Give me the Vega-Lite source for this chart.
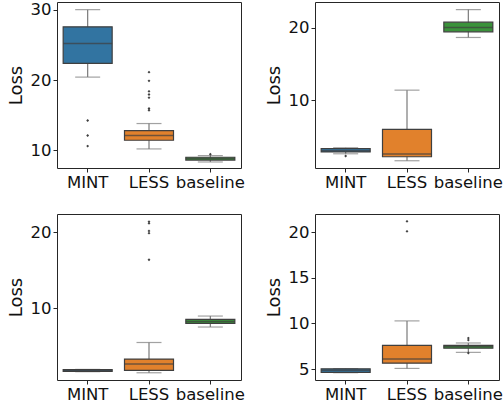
{
  "$schema": "https://vega.github.io/schema/vega-lite/v6.json",
  "padding": {"left": 6, "top": 1, "right": 5, "bottom": 2},
  "datasets": {
    "boxes": [
      {"panel": "a", "cat": "MINT", "lower": 20.43, "q1": 22.4, "median": 25.24, "q3": 27.6, "upper": 30.05},
      {"panel": "a", "cat": "LESS", "lower": 10.19, "q1": 11.43, "median": 12.1, "q3": 12.81, "upper": 13.81},
      {"panel": "a", "cat": "baseline", "lower": 8.33, "q1": 8.6, "median": 8.81, "q3": 9.0, "upper": 9.24},
      {"panel": "b", "cat": "MINT", "lower": 2.64, "q1": 2.9, "median": 3.06, "q3": 3.35, "upper": 3.47},
      {"panel": "b", "cat": "LESS", "lower": 1.68, "q1": 2.23, "median": 2.6, "q3": 5.99, "upper": 11.41},
      {"panel": "b", "cat": "baseline", "lower": 18.67, "q1": 19.45, "median": 20.05, "q3": 20.78, "upper": 22.51},
      {"panel": "c", "cat": "MINT", "lower": 1.7, "q1": 1.75, "median": 1.85, "q3": 1.96, "upper": 2.0},
      {"panel": "c", "cat": "LESS", "lower": 1.56, "q1": 1.88, "median": 2.7, "q3": 3.35, "upper": 5.53},
      {"panel": "c", "cat": "baseline", "lower": 7.56, "q1": 8.04, "median": 8.3, "q3": 8.57, "upper": 9.0},
      {"panel": "d", "cat": "MINT", "lower": 4.6, "q1": 4.64, "median": 4.86, "q3": 5.03, "upper": 5.05},
      {"panel": "d", "cat": "LESS", "lower": 5.07, "q1": 5.65, "median": 6.11, "q3": 7.6, "upper": 10.28},
      {"panel": "d", "cat": "baseline", "lower": 6.83, "q1": 7.28, "median": 7.45, "q3": 7.6, "upper": 7.86}
    ],
    "outliers": [
      {"panel": "a", "cat": "MINT", "value": 14.24},
      {"panel": "a", "cat": "MINT", "value": 12.1},
      {"panel": "a", "cat": "MINT", "value": 10.6},
      {"panel": "a", "cat": "LESS", "value": 21.14},
      {"panel": "a", "cat": "LESS", "value": 19.9},
      {"panel": "a", "cat": "LESS", "value": 18.4},
      {"panel": "a", "cat": "LESS", "value": 17.95},
      {"panel": "a", "cat": "LESS", "value": 17.5},
      {"panel": "a", "cat": "LESS", "value": 15.95},
      {"panel": "a", "cat": "LESS", "value": 15.7},
      {"panel": "a", "cat": "baseline", "value": 9.43},
      {"panel": "b", "cat": "MINT", "value": 2.33},
      {"panel": "c", "cat": "LESS", "value": 21.38},
      {"panel": "c", "cat": "LESS", "value": 21.17},
      {"panel": "c", "cat": "LESS", "value": 20.17},
      {"panel": "c", "cat": "LESS", "value": 19.87},
      {"panel": "c", "cat": "LESS", "value": 16.39},
      {"panel": "d", "cat": "LESS", "value": 21.2},
      {"panel": "d", "cat": "LESS", "value": 20.1},
      {"panel": "d", "cat": "baseline", "value": 8.4},
      {"panel": "d", "cat": "baseline", "value": 8.18},
      {"panel": "d", "cat": "baseline", "value": 6.76}
    ]
  },
  "columns": 2,
  "spacing": {"row": 46, "column": 74},
  "bounds": "flush",
  "resolve": {"scale": {"y": "independent"}},
  "concat": [
    {
      "width": 184, "height": 166,
      "layer": [
        {"data": {"name": "boxes"}, "transform": [{"filter": "datum.panel === 'a'"}], "mark": {"type": "rule", "color": "#7a7a7a", "strokeWidth": 1.2},
         "encoding": {"x": {"field": "cat", "type": "nominal"}, "y": {"field": "lower", "type": "quantitative"}, "y2": {"field": "upper"}}},
        {"data": {"name": "boxes"}, "transform": [{"filter": "datum.panel === 'a'"}], "mark": {"type": "tick", "color": "#7a7a7a", "size": 25, "thickness": 1.2},
         "encoding": {"x": {"field": "cat", "type": "nominal"}, "y": {"field": "lower", "type": "quantitative"}}},
        {"data": {"name": "boxes"}, "transform": [{"filter": "datum.panel === 'a'"}], "mark": {"type": "tick", "color": "#7a7a7a", "size": 25, "thickness": 1.2},
         "encoding": {"x": {"field": "cat", "type": "nominal"}, "y": {"field": "upper", "type": "quantitative"}}},
        {"data": {"name": "boxes"}, "transform": [{"filter": "datum.panel === 'a'"}], "mark": {"type": "bar", "size": 49, "stroke": "#3f3f3f", "strokeWidth": 1.2},
         "encoding": {"x": {"field": "cat", "type": "nominal"}, "y": {"field": "q1", "type": "quantitative"}, "y2": {"field": "q3"},
           "color": {"field": "cat", "type": "nominal", "scale": {"domain": ["MINT", "LESS", "baseline"], "range": ["#3274a1", "#e1812c", "#3a923a"]}, "legend": null}}},
        {"data": {"name": "boxes"}, "transform": [{"filter": "datum.panel === 'a'"}], "mark": {"type": "tick", "color": "#3f3f3f", "size": 49, "thickness": 1.5},
         "encoding": {"x": {"field": "cat", "type": "nominal"}, "y": {"field": "median", "type": "quantitative"}}},
        {"data": {"name": "outliers"}, "transform": [{"filter": "datum.panel === 'a'"}], "mark": {"type": "point", "shape": "diamond", "filled": true, "color": "#3f3f3f", "size": 8, "opacity": 1},
         "encoding": {"x": {"field": "cat", "type": "nominal", "scale": {"domain": ["MINT", "LESS", "baseline"], "paddingInner": 0, "paddingOuter": 0}, "axis": {"title": null, "labelAngle": 0, "labelAlign": "center", "labelBaseline": "top", "bandPosition": 0.5}},
           "y": {"field": "value", "type": "quantitative", "scale": {"domain": [7.47, 31.14], "nice": false, "zero": false}, "axis": {"title": "Loss", "values": [10, 20, 30]}}}}
      ]
    },
    {
      "width": 184, "height": 166,
      "layer": [
        {"data": {"name": "boxes"}, "transform": [{"filter": "datum.panel === 'b'"}], "mark": {"type": "rule", "color": "#7a7a7a", "strokeWidth": 1.2},
         "encoding": {"x": {"field": "cat", "type": "nominal"}, "y": {"field": "lower", "type": "quantitative"}, "y2": {"field": "upper"}}},
        {"data": {"name": "boxes"}, "transform": [{"filter": "datum.panel === 'b'"}], "mark": {"type": "tick", "color": "#7a7a7a", "size": 25, "thickness": 1.2},
         "encoding": {"x": {"field": "cat", "type": "nominal"}, "y": {"field": "lower", "type": "quantitative"}}},
        {"data": {"name": "boxes"}, "transform": [{"filter": "datum.panel === 'b'"}], "mark": {"type": "tick", "color": "#7a7a7a", "size": 25, "thickness": 1.2},
         "encoding": {"x": {"field": "cat", "type": "nominal"}, "y": {"field": "upper", "type": "quantitative"}}},
        {"data": {"name": "boxes"}, "transform": [{"filter": "datum.panel === 'b'"}], "mark": {"type": "bar", "size": 49, "stroke": "#3f3f3f", "strokeWidth": 1.2},
         "encoding": {"x": {"field": "cat", "type": "nominal"}, "y": {"field": "q1", "type": "quantitative"}, "y2": {"field": "q3"},
           "color": {"field": "cat", "type": "nominal", "scale": {"domain": ["MINT", "LESS", "baseline"], "range": ["#3274a1", "#e1812c", "#3a923a"]}, "legend": null}}},
        {"data": {"name": "boxes"}, "transform": [{"filter": "datum.panel === 'b'"}], "mark": {"type": "tick", "color": "#3f3f3f", "size": 49, "thickness": 1.5},
         "encoding": {"x": {"field": "cat", "type": "nominal"}, "y": {"field": "median", "type": "quantitative"}}},
        {"data": {"name": "outliers"}, "transform": [{"filter": "datum.panel === 'b'"}], "mark": {"type": "point", "shape": "diamond", "filled": true, "color": "#3f3f3f", "size": 8, "opacity": 1},
         "encoding": {"x": {"field": "cat", "type": "nominal", "scale": {"domain": ["MINT", "LESS", "baseline"], "paddingInner": 0, "paddingOuter": 0}, "axis": {"title": null, "labelAngle": 0, "labelAlign": "center", "labelBaseline": "top", "bandPosition": 0.5}},
           "y": {"field": "value", "type": "quantitative", "scale": {"domain": [0.68, 23.56], "nice": false, "zero": false}, "axis": {"title": "Loss", "values": [10, 20]}}}}
      ]
    },
    {
      "width": 184, "height": 166,
      "layer": [
        {"data": {"name": "boxes"}, "transform": [{"filter": "datum.panel === 'c'"}], "mark": {"type": "rule", "color": "#7a7a7a", "strokeWidth": 1.2},
         "encoding": {"x": {"field": "cat", "type": "nominal"}, "y": {"field": "lower", "type": "quantitative"}, "y2": {"field": "upper"}}},
        {"data": {"name": "boxes"}, "transform": [{"filter": "datum.panel === 'c'"}], "mark": {"type": "tick", "color": "#7a7a7a", "size": 25, "thickness": 1.2},
         "encoding": {"x": {"field": "cat", "type": "nominal"}, "y": {"field": "lower", "type": "quantitative"}}},
        {"data": {"name": "boxes"}, "transform": [{"filter": "datum.panel === 'c'"}], "mark": {"type": "tick", "color": "#7a7a7a", "size": 25, "thickness": 1.2},
         "encoding": {"x": {"field": "cat", "type": "nominal"}, "y": {"field": "upper", "type": "quantitative"}}},
        {"data": {"name": "boxes"}, "transform": [{"filter": "datum.panel === 'c'"}], "mark": {"type": "bar", "size": 49, "stroke": "#3f3f3f", "strokeWidth": 1.2},
         "encoding": {"x": {"field": "cat", "type": "nominal"}, "y": {"field": "q1", "type": "quantitative"}, "y2": {"field": "q3"},
           "color": {"field": "cat", "type": "nominal", "scale": {"domain": ["MINT", "LESS", "baseline"], "range": ["#3274a1", "#e1812c", "#3a923a"]}, "legend": null}}},
        {"data": {"name": "boxes"}, "transform": [{"filter": "datum.panel === 'c'"}], "mark": {"type": "tick", "color": "#3f3f3f", "size": 49, "thickness": 1.5},
         "encoding": {"x": {"field": "cat", "type": "nominal"}, "y": {"field": "median", "type": "quantitative"}}},
        {"data": {"name": "outliers"}, "transform": [{"filter": "datum.panel === 'c'"}], "mark": {"type": "point", "shape": "diamond", "filled": true, "color": "#3f3f3f", "size": 8, "opacity": 1},
         "encoding": {"x": {"field": "cat", "type": "nominal", "scale": {"domain": ["MINT", "LESS", "baseline"], "paddingInner": 0, "paddingOuter": 0}, "axis": {"title": null, "labelAngle": 0, "labelAlign": "center", "labelBaseline": "top", "bandPosition": 0.5}},
           "y": {"field": "value", "type": "quantitative", "scale": {"domain": [0.61, 22.39], "nice": false, "zero": false}, "axis": {"title": "Loss", "values": [10, 20]}}}}
      ]
    },
    {
      "width": 184, "height": 166,
      "layer": [
        {"data": {"name": "boxes"}, "transform": [{"filter": "datum.panel === 'd'"}], "mark": {"type": "rule", "color": "#7a7a7a", "strokeWidth": 1.2},
         "encoding": {"x": {"field": "cat", "type": "nominal"}, "y": {"field": "lower", "type": "quantitative"}, "y2": {"field": "upper"}}},
        {"data": {"name": "boxes"}, "transform": [{"filter": "datum.panel === 'd'"}], "mark": {"type": "tick", "color": "#7a7a7a", "size": 25, "thickness": 1.2},
         "encoding": {"x": {"field": "cat", "type": "nominal"}, "y": {"field": "lower", "type": "quantitative"}}},
        {"data": {"name": "boxes"}, "transform": [{"filter": "datum.panel === 'd'"}], "mark": {"type": "tick", "color": "#7a7a7a", "size": 25, "thickness": 1.2},
         "encoding": {"x": {"field": "cat", "type": "nominal"}, "y": {"field": "upper", "type": "quantitative"}}},
        {"data": {"name": "boxes"}, "transform": [{"filter": "datum.panel === 'd'"}], "mark": {"type": "bar", "size": 49, "stroke": "#3f3f3f", "strokeWidth": 1.2},
         "encoding": {"x": {"field": "cat", "type": "nominal"}, "y": {"field": "q1", "type": "quantitative"}, "y2": {"field": "q3"},
           "color": {"field": "cat", "type": "nominal", "scale": {"domain": ["MINT", "LESS", "baseline"], "range": ["#3274a1", "#e1812c", "#3a923a"]}, "legend": null}}},
        {"data": {"name": "boxes"}, "transform": [{"filter": "datum.panel === 'd'"}], "mark": {"type": "tick", "color": "#3f3f3f", "size": 49, "thickness": 1.5},
         "encoding": {"x": {"field": "cat", "type": "nominal"}, "y": {"field": "median", "type": "quantitative"}}},
        {"data": {"name": "outliers"}, "transform": [{"filter": "datum.panel === 'd'"}], "mark": {"type": "point", "shape": "diamond", "filled": true, "color": "#3f3f3f", "size": 8, "opacity": 1},
         "encoding": {"x": {"field": "cat", "type": "nominal", "scale": {"domain": ["MINT", "LESS", "baseline"], "paddingInner": 0, "paddingOuter": 0}, "axis": {"title": null, "labelAngle": 0, "labelAlign": "center", "labelBaseline": "top", "bandPosition": 0.5}},
           "y": {"field": "value", "type": "quantitative", "scale": {"domain": [3.8, 22.0], "nice": false, "zero": false}, "axis": {"title": "Loss", "values": [5, 10, 15, 20]}}}}
      ]
    }
  ],
  "config": {
    "background": "white",
    "font": "DejaVu Sans",
    "view": {"stroke": "#262626", "strokeWidth": 1},
    "axis": {
      "grid": false, "domain": false,
      "tickColor": "#262626", "tickSize": 4, "tickWidth": 1,
      "labelFont": "DejaVu Sans", "labelFontSize": 16.5, "labelColor": "#111", "labelPadding": 2,
      "titleFont": "DejaVu Sans", "titleFontSize": 18, "titleFontWeight": "normal", "titleColor": "#111", "titlePadding": 5
    }
  }
}
